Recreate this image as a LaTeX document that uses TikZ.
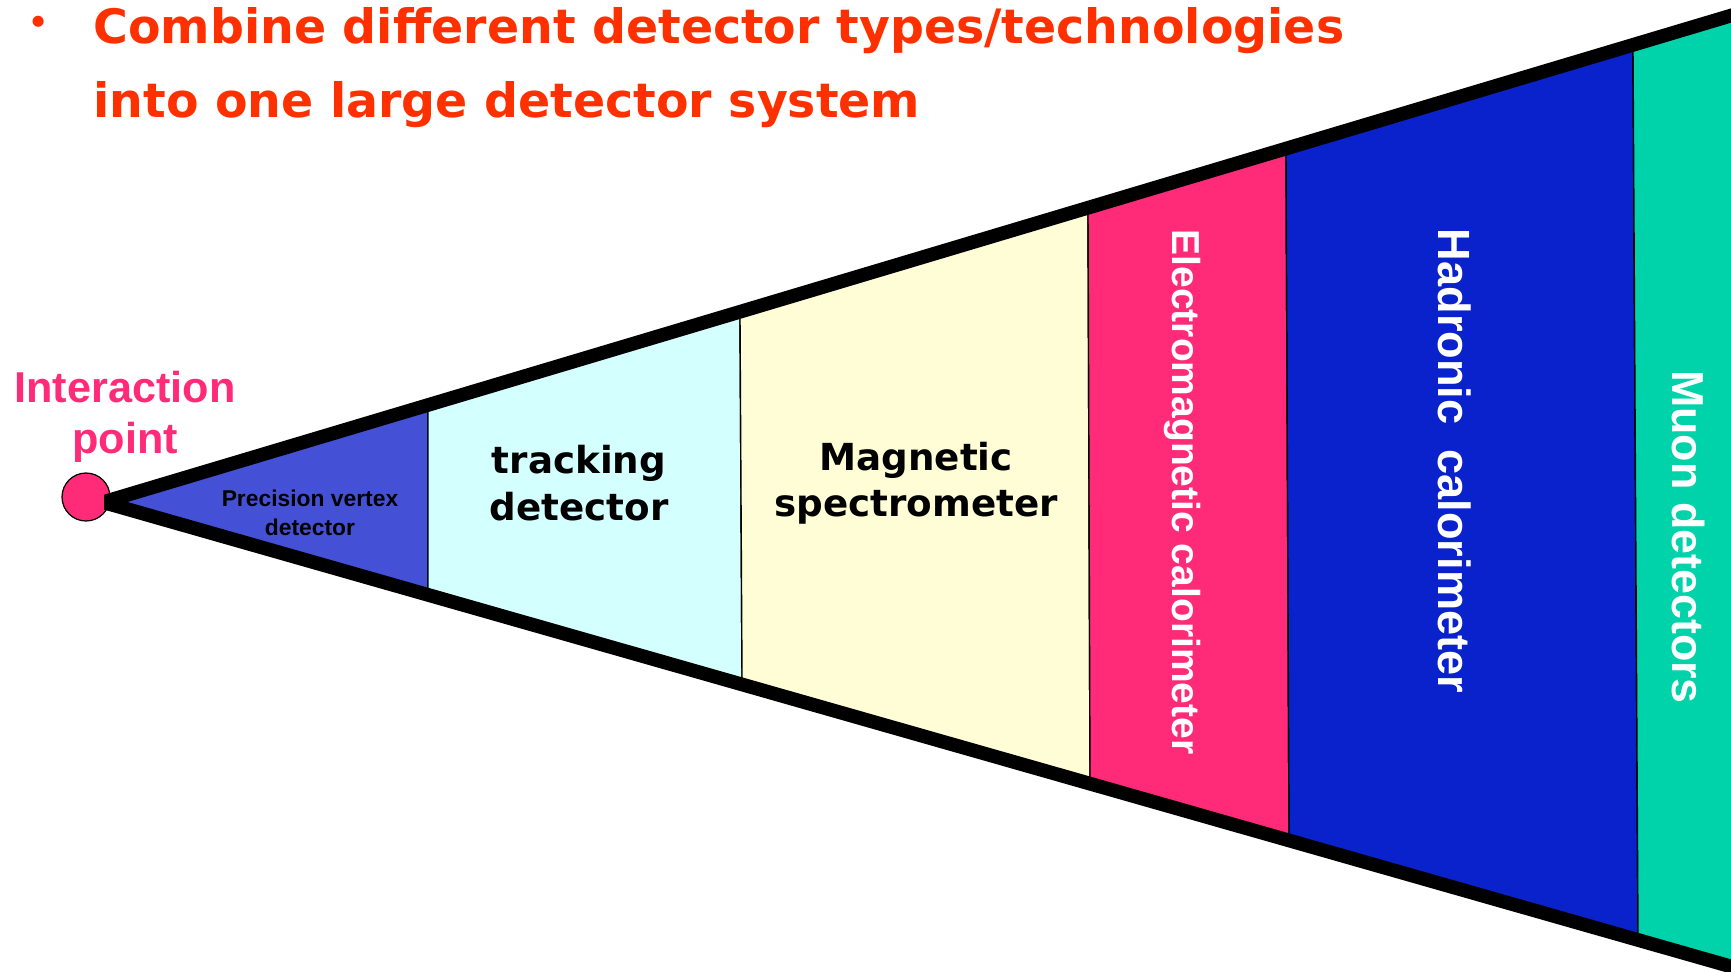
\documentclass[tikz,border=0pt]{standalone}
\usepackage{fontspec}
\setmainfont{Liberation Sans}
\newfontfamily\wideface{DejaVu Sans}
\usepackage{tikz}
\usetikzlibrary{positioning}
\definecolor{titlecolor}{RGB}{255,48,0}
\definecolor{ipcolor}{RGB}{255,43,120}
\definecolor{vtxcolor}{RGB}{68,80,214}
\definecolor{trkcolor}{RGB}{212,255,255}
\definecolor{magcolor}{RGB}{255,253,214}
\definecolor{emcolor}{RGB}{255,43,120}
\definecolor{hadcolor}{RGB}{10,34,204}
\definecolor{muocolor}{RGB}{0,211,170}
\tikzset{
  layer/.style={draw=black, line width=0.8pt, line join=miter},
  wtxt/.style={font=\wideface\bfseries\fontsize{21.2}{26.5}\selectfont, align=center, inner sep=0pt},
  vtxt/.style={text=white, rotate=-90, anchor=base, inner sep=0pt},
  ttl/.style={text=titlecolor, anchor=base west, inner sep=0pt, font=\wideface\bfseries\fontsize{27}{32}\selectfont},
}

\begin{document}
\begin{tikzpicture}[x=0.02cm, y=-0.02cm]
\useasboundingbox (0,0) rectangle (1731,971);
\node[ttl, anchor=center, font=\wideface\bfseries\fontsize{18}{20}\selectfont] (bul) at (39,25) {•};
\node[ttl] (tl1) at (93,43) {Combine different detector types/technologies};
\node[ttl] (tl2) at (93,117) {into one large detector system};
\node[circle, draw=black, line width=0.7pt, fill=ipcolor, minimum size=0.96cm, inner sep=0pt] (ip) at (86,497) {};
\coordinate (apex) at (125,502);
\coordinate (t1) at (428,411.4);  \coordinate (b1) at (428,588.4);
\coordinate (t2) at (740,318.2);  \coordinate (b2) at (742,678.0);
\coordinate (t3) at (1088,214.2); \coordinate (b3) at (1090,777.2);
\coordinate (t4) at (1286,155.0); \coordinate (b4) at (1289,834.0);
\coordinate (t5) at (1633,51.3);  \coordinate (b5) at (1638,933.5);
\coordinate (t6) at (1740,19.3);  \coordinate (b6) at (1740,962.6);
\fill[black] (104,494.7) -- (1740,5.7) -- (1740,976.2) -- (104,509.6) -- cycle;
\filldraw[layer, fill=vtxcolor] (apex) -- (t1) -- (b1) -- cycle;
\filldraw[layer, fill=trkcolor] (t1) -- (t2) -- (b2) -- (b1) -- cycle;
\filldraw[layer, fill=magcolor] (t2) -- (t3) -- (b3) -- (b2) -- cycle;
\filldraw[layer, fill=emcolor] (t3) -- (t4) -- (b4) -- (b3) -- cycle;
\filldraw[layer, fill=hadcolor] (t4) -- (t5) -- (b5) -- (b4) -- cycle;
\filldraw[layer, fill=muocolor] (t5) -- (t6) -- (b6) -- (b5) -- cycle;
\node[align=center, inner sep=0pt, text=ipcolor, font=\bfseries\fontsize{24.6}{29}\selectfont] (iplbl) at (125,417) {Interaction\\point};
\node[align=center, inner sep=0pt, font=\bfseries\fontsize{13}{16.5}\selectfont] (vtx) at (310,513) {Precision vertex\\detector};
\node[wtxt] (trk) at (579,483) {tracking\\detector};
\node[wtxt] (mag) at (916,483) {Magnetic\\spectrometer};
\node[vtxt, font=\bfseries\fontsize{22.2}{26}\selectfont] (em) at (1172,492) {Electromagnetic calorimeter};
\node[vtxt, font=\bfseries\fontsize{25.7}{30}\selectfont] (had) at (1438,461) {Hadronic\ \ calorimeter};
\node[vtxt, font=\bfseries\fontsize{25.5}{30}\selectfont] (muo) at (1672,537) {Muon detectors};
\end{tikzpicture}
\end{document}
